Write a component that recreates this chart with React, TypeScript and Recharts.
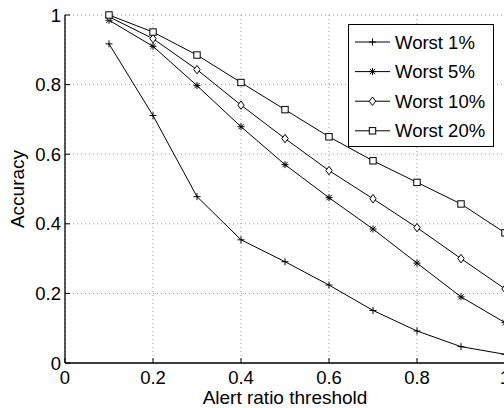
import { LineChart, Line, XAxis, YAxis, CartesianGrid, Legend, Label } from 'recharts';

const THRESHOLDS = [0.1, 0.2, 0.3, 0.4, 0.5, 0.6, 0.7, 0.8, 0.9, 1.0];
const WORST_1 = [0.917, 0.711, 0.478, 0.354, 0.291, 0.224, 0.151, 0.092, 0.047, 0.025];
const WORST_5 = [0.985, 0.91, 0.797, 0.679, 0.57, 0.475, 0.385, 0.287, 0.19, 0.116];
const WORST_10 = [0.995, 0.932, 0.843, 0.741, 0.645, 0.553, 0.472, 0.389, 0.3, 0.213];
const WORST_20 = [1.0, 0.951, 0.885, 0.806, 0.728, 0.65, 0.581, 0.519, 0.457, 0.374];
const AXIS_TICKS = [0, 0.2, 0.4, 0.6, 0.8, 1];

type MarkerKind = 'plus' | 'star' | 'diamond' | 'square';

const SERIES: { key: string; name: string; values: number[]; marker: MarkerKind }[] = [
  { key: 'w1', name: 'Worst 1%', values: WORST_1, marker: 'plus' },
  { key: 'w5', name: 'Worst 5%', values: WORST_5, marker: 'star' },
  { key: 'w10', name: 'Worst 10%', values: WORST_10, marker: 'diamond' },
  { key: 'w20', name: 'Worst 20%', values: WORST_20, marker: 'square' },
];

const data = THRESHOLDS.map((t, i) => {
  const row: Record<string, number> = { x: t };
  SERIES.forEach((s) => {
    row[s.key] = s.values[i];
  });
  return row;
});

const FONT = '"Liberation Sans", Arial, Helvetica, sans-serif';
const FS = 18.5;

function Marker({ kind, cx, cy }: { kind: MarkerKind; cx: number; cy: number }) {
  if (kind === 'plus') {
    return (
      <path d={`M${cx - 3.5},${cy}H${cx + 3.5}M${cx},${cy - 3.5}V${cy + 3.5}`} stroke="#000" strokeWidth={1} fill="none" />
    );
  }
  if (kind === 'star') {
    const d = 2.6;
    return (
      <path
        d={`M${cx - 3.5},${cy}H${cx + 3.5}M${cx},${cy - 3.5}V${cy + 3.5}M${cx - d},${cy - d}L${cx + d},${cy + d}M${cx - d},${cy + d}L${cx + d},${cy - d}`}
        stroke="#000"
        strokeWidth={1}
        fill="none"
      />
    );
  }
  if (kind === 'diamond') {
    return (
      <polygon
        points={`${cx},${cy - 4.2} ${cx + 3.2},${cy} ${cx},${cy + 4.2} ${cx - 3.2},${cy}`}
        fill="#fff"
        stroke="#000"
        strokeWidth={1}
      />
    );
  }
  return <rect x={cx - 3.2} y={cy - 3.2} width={6.4} height={6.4} fill="#fff" stroke="#000" strokeWidth={1} />;
}

function makeDot(kind: MarkerKind) {
  return (props: any) => {
    const { cx, cy, index } = props;
    if (cx == null || cy == null) return <g key={`d-${kind}-${index}`} />;
    return (
      <g key={`d-${kind}-${index}`}>
        <Marker kind={kind} cx={cx} cy={cy} />
      </g>
    );
  };
}

function BottomTick(props: any) {
  const { x, y, payload } = props;
  return (
    <g>
      <line x1={x} x2={x} y1={y} y2={y - 5} stroke="#000" strokeWidth={1} />
      <text x={x} y={y + 21.2} textAnchor="middle" fontFamily={FONT} fontSize={FS} fill="#000">
        {String(payload.value)}
      </text>
    </g>
  );
}

function TopTick(props: any) {
  const { x, y } = props;
  return <line x1={x} x2={x} y1={y} y2={y + 5} stroke="#000" strokeWidth={1} />;
}

function LeftTick(props: any) {
  const { x, y, payload } = props;
  return (
    <g>
      <line x1={x} x2={x + 5} y1={y} y2={y} stroke="#000" strokeWidth={1} />
      <text x={x - 4} y={y + 6.6} textAnchor="end" fontFamily={FONT} fontSize={FS} fill="#000">
        {String(payload.value)}
      </text>
    </g>
  );
}

// legend drawn in series order (recharts sorts its payload by name)
function LegendBox() {
  return (
    <svg width={146} height={123} style={{ display: 'block' }}>
      <rect x={0.5} y={0.5} width={145} height={122} fill="#fff" stroke="#000" strokeWidth={1} />
      {SERIES.map((s, i) => {
        const cy = 18 + i * 29.6;
        return (
          <g key={s.key}>
            <line x1={7} x2={42} y1={cy} y2={cy} stroke="#000" strokeWidth={1} />
            <Marker kind={s.marker} cx={24.5} cy={cy} />
            <text x={47} y={cy + 6.6} fontFamily={FONT} fontSize={FS} fill="#000">
              {s.name}
            </text>
          </g>
        );
      })}
    </svg>
  );
}

export default function App() {
  return (
    <div style={{ position: 'absolute', left: 0, top: 0, width: 504, height: 408, overflow: 'hidden', background: '#fff' }}>
      <LineChart width={520} height={408} data={data} margin={{ top: 15, right: 15, bottom: 0, left: 0 }}>
        <CartesianGrid stroke="#9a9a9a" strokeDasharray="1 3" />
        <XAxis
          dataKey="x"
          type="number"
          domain={[0, 1]}
          ticks={AXIS_TICKS}
          height={45}
          tickSize={0}
          tickMargin={0}
          tickLine={false}
          tick={<BottomTick />}
          axisLine={{ stroke: '#000', strokeWidth: 1.3 }}
          interval={0}
        >
          <Label
            content={() => (
              <text x={285} y={403.6} textAnchor="middle" fontFamily={FONT} fontSize={19} fill="#000">
                Alert ratio threshold
              </text>
            )}
          />
        </XAxis>
        <XAxis
          xAxisId="top"
          orientation="top"
          dataKey="x"
          type="number"
          domain={[0, 1]}
          ticks={AXIS_TICKS}
          height={0}
          tickSize={0}
          tickMargin={0}
          tickLine={false}
          tick={<TopTick />}
          axisLine={{ stroke: '#000', strokeWidth: 1.3 }}
          interval={0}
        />
        <YAxis
          type="number"
          domain={[0, 1]}
          ticks={AXIS_TICKS}
          width={65}
          tickSize={0}
          tickMargin={0}
          tickLine={false}
          tick={<LeftTick />}
          axisLine={{ stroke: '#000', strokeWidth: 1.3 }}
          interval={0}
        >
          <Label
            content={() => (
              <text
                x={24.3}
                y={189}
                transform="rotate(-90 24.3 189)"
                textAnchor="middle"
                fontFamily={FONT}
                fontSize={19}
                fill="#000"
              >
                Accuracy
              </text>
            )}
          />
        </YAxis>
        <Legend
          layout="horizontal"
          verticalAlign="middle"
          align="center"
          content={<LegendBox />}
          wrapperStyle={{ position: 'absolute', left: 348, top: 24, width: 146, height: 123 }}
        />
        {SERIES.map((s) => (
          <Line
            key={s.key}
            dataKey={s.key}
            name={s.name}
            stroke="#000"
            strokeWidth={1}
            dot={makeDot(s.marker)}
            activeDot={false}
            isAnimationActive={false}
            type="linear"
          />
        ))}
      </LineChart>
    </div>
  );
}
